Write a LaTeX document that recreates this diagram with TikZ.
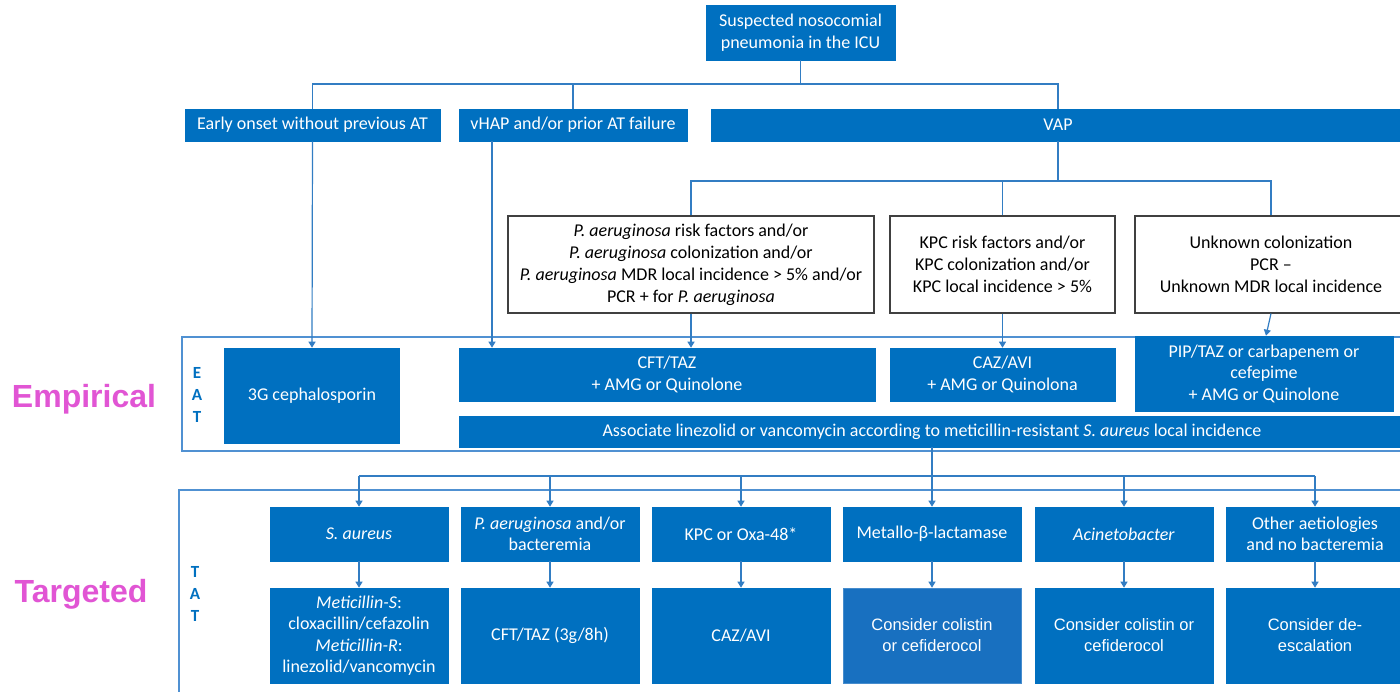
\documentclass[tikz,border=0pt]{standalone}
\usepackage{fontspec}
\setmainfont{Carlito}
\newfontfamily\arialf{Liberation Sans}
\usetikzlibrary{arrows.meta}
\definecolor{bxblue}{RGB}{0,112,192}
\definecolor{bxblue2}{RGB}{24,112,192}
\definecolor{lnblue}{RGB}{50,125,195}
\definecolor{frblue}{RGB}{80,145,210}
\definecolor{gbord}{RGB}{64,64,64}
\definecolor{magl}{RGB}{225,85,212}
\tikzset{
  bbox/.style={rectangle, fill=bxblue, draw=bxblue, line width=0.6pt, text=white, align=center, inner sep=0pt,
    font=\fontsize{18}{21.5}\selectfont},
  wbox/.style={rectangle, fill=white, draw=gbord, line width=1.1pt, text=black, align=center, inner sep=0pt,
    font=\fontsize{18}{22}\selectfont},
  abox/.style={bbox, font=\arialf\fontsize{16.5}{21}\selectfont},
  conn/.style={draw=lnblue, line width=1.2pt},
  arr/.style={conn, -{Triangle[width=7pt,length=6pt]}},
  frame/.style={draw=frblue, line width=1.4pt},
  side/.style={text=magl, font=\arialf\bfseries\fontsize{32}{36}\selectfont, inner sep=0pt},
  lett/.style={text=bxblue, font=\bfseries\fontsize{17}{22}\selectfont, align=center, inner sep=0pt},
}
\begin{document}
\begin{tikzpicture}[x=1pt,y=-1pt]
\clip (0,0) rectangle (1400,692);
\fill[white] (0,0) rectangle (1400,692);

% frames
\draw[frame] (182,337) rectangle (1420,451);
\draw[frame] (179,490) rectangle (1420,710);

% top
\node[bbox, minimum width=189pt, minimum height=55pt] (top) at (800.5,32.5) {Suspected nosocomial\\pneumonia in the ICU};
\node[bbox, minimum width=255pt, minimum height=32pt] (early) at (312.5,125) {Early onset without previous AT};
\node[bbox, minimum width=228pt, minimum height=32pt] (vhap) at (573,125) {vHAP and/or prior AT failure};
\node[bbox, minimum width=694pt, minimum height=32pt] (vap) at (1058,125) {VAP};

\node[wbox, minimum width=366pt, minimum height=97pt] (paer) at (691,264.5)
  {\textit{P. aeruginosa} risk factors and/or\\\textit{P. aeruginosa} colonization and/or\\\textit{P. aeruginosa} MDR local incidence > 5\% and/or\\PCR + for \textit{P. aeruginosa}};
\node[wbox, minimum width=225pt, minimum height=97pt] (kpc) at (1002.5,264.5)
  {KPC risk factors and/or\\KPC colonization and/or\\KPC local incidence > 5\%};
\node[wbox, minimum width=272pt, minimum height=97pt] (unk) at (1271,264.5)
  {Unknown colonization\\PCR –\\Unknown MDR local incidence};

% EAT
\node[bbox, minimum width=175pt, minimum height=95pt] (ceph) at (312,395.5) {3G cephalosporin};
\node[bbox, minimum width=416pt, minimum height=53pt] (cft) at (667,374.5) {CFT/TAZ\\+ AMG or Quinolone};
\node[bbox, minimum width=225pt, minimum height=53pt] (caz) at (1002.5,374.5) {CAZ/AVI\\+ AMG or Quinolona};
\node[bbox, minimum width=258pt, minimum height=75pt] (pip) at (1264,373.5) {PIP/TAZ or carbapenem or\\cefepime\\+ AMG or Quinolone};
\node[bbox, minimum width=946pt, minimum height=31pt] (assoc) at (932,431.5)
  {Associate linezolid or vancomycin according to meticillin-resistant \textit{S. aureus} local incidence};

% TAT row 1
\node[bbox, minimum width=178pt, minimum height=54pt] (r1a) at (359,534) {\textit{S. aureus}};
\node[bbox, minimum width=178pt, minimum height=54pt] (r1b) at (550,534) {\textit{P. aeruginosa} and/or\\bacteremia};
\node[bbox, minimum width=178pt, minimum height=54pt] (r1c) at (741,534) {KPC or Oxa-48*};
\node[bbox, minimum width=178pt, minimum height=54pt] (r1d) at (932,534) {Metallo-β-lactamase};
\node[bbox, minimum width=178pt, minimum height=54pt] (r1e) at (1124,534) {\textit{Acinetobacter}};
\node[bbox, minimum width=178pt, minimum height=54pt] (r1f) at (1315,534) {Other aetiologies\\and no bacteremia};

% TAT row 2
\node[bbox, minimum width=178pt, minimum height=95pt] (r2a) at (359,635.5)
  {\textit{Meticillin-S}:\\cloxacillin/cefazolin\\\textit{Meticillin-R}:\\linezolid/vancomycin};
\node[bbox, minimum width=178pt, minimum height=95pt] (r2b) at (550,635.5) {CFT/TAZ (3g/8h)};
\node[bbox, minimum width=178pt, minimum height=95pt] (r2c) at (741,635.5) {CAZ/AVI};
\node[abox, fill=bxblue2, draw={rgb,255:red,70;green,140;blue,205}, minimum width=178pt, minimum height=95pt] (r2d) at (932,635.5) {Consider colistin\\or cefiderocol};
\node[abox, minimum width=178pt, minimum height=95pt] (r2e) at (1124,635.5) {Consider colistin or\\cefiderocol};
\node[abox, minimum width=178pt, minimum height=95pt] (r2f) at (1315,635.5) {Consider de-\\escalation};

% side labels
\node[side] (emp) at (84,399) {Empirical};
\node[side] (tar) at (81,594) {Targeted};
\node[lett] (eat) at (197,395) {E\\A\\T};
\node[lett] (tat) at (195,594) {T\\A\\T};

% connectors top
\coordinate (j1) at (800.5,84);
\draw[conn] (top.south) -- (j1);
\draw[conn] (early.north) -- (early.north |- j1) -- (vap.north |- j1) -- (vap.north);
\draw[conn] (vhap.north) -- (vhap.north |- j1);

\draw[arr] (early.south) -- (ceph.north);
\draw[arr] ([xshift=-81pt]vhap.south) -- ([xshift=-81pt]vhap.south |- cft.north);

\coordinate (j2) at (1058,181);
\draw[conn] (vap.south) -- (j2);
\draw[conn] (paer.north) -- (paer.north |- j2) -- (unk.north |- j2) -- (unk.north);
\draw[conn] (kpc.north) -- (kpc.north |- j2);

\draw[arr] (paer.south) -- (paer.south |- cft.north);
\draw[arr] (kpc.south) -- (caz.north);
\draw[arr] (unk.south) -- ([xshift=2pt]pip.north);

% connectors bottom
\coordinate (j3) at (932,476);
\draw[arr] (assoc.south) -- (r1d.north);
\draw[conn] (r1a.north |- j3) -- (r1f.north |- j3);
\foreach \n in {r1a,r1b,r1c,r1e,r1f} {\draw[arr] (\n.north |- j3) -- (\n.north);}
\draw[arr] (r1a.south) -- (r2a.north);
\draw[arr] (r1b.south) -- (r2b.north);
\draw[arr] (r1c.south) -- (r2c.north);
\draw[arr] (r1d.south) -- (r2d.north);
\draw[arr] (r1e.south) -- (r2e.north);
\draw[arr] (r1f.south) -- (r2f.north);
\end{tikzpicture}
\end{document}
